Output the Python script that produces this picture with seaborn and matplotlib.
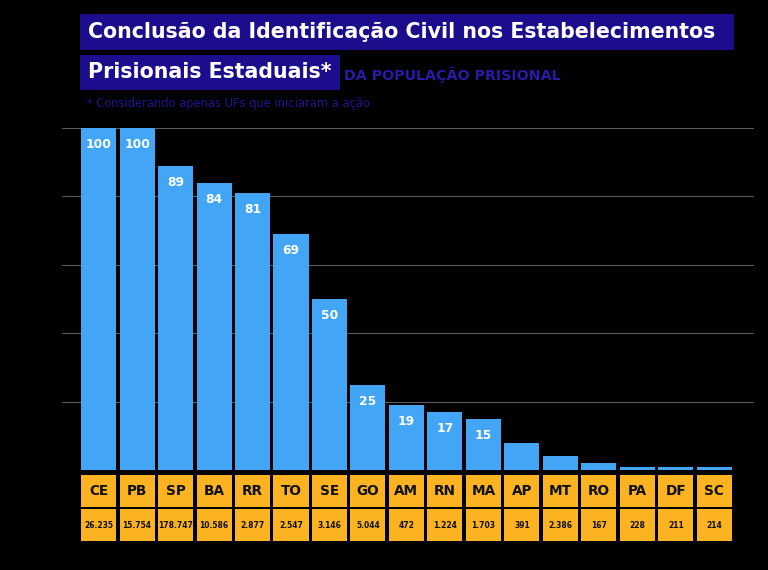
import numpy as np
import pandas as pd
import seaborn as sns
from matplotlib import pyplot as plt
from matplotlib.patches import Rectangle

ufs = ["CE", "PB", "SP", "BA", "RR", "TO", "SE", "GO", "AM", "RN", "MA",
       "AP", "MT", "RO", "PA", "DF", "SC"]
percentual = [100, 100, 89, 84, 81, 69, 50, 25, 19, 17, 15, 8, 4, 2, 1, 1, 1]
populacao = ["26.235", "15.754", "178.747", "10.586", "2.877", "2.547", "3.146",
             "5.044", "472", "1.224", "1.703", "391", "2.386", "167", "228",
             "211", "214"]

titulo_1 = "Conclusão da Identificação Civil nos Estabelecimentos"
titulo_2 = "Prisionais Estaduais*"
subtitulo = "DA POPULAÇÃO PRISIONAL"
nota = "* Considerando apenas UFs que iniciaram a ação"

azul = "#42a5f5"
amarelo = "#fbb321"
roxo = "#1b0d8c"

sns.set_theme(style="dark")
plt.rcParams["font.family"] = ["DejaVu Sans"]

df = pd.DataFrame({"uf": ufs, "pct": percentual, "pop": populacao})

fig = plt.figure(figsize=(7.68, 5.7), dpi=100, facecolor="black")
ax = fig.add_axes([62 / 768, 100 / 570, 692 / 768, 342 / 570])
ax.set_facecolor("black")

sns.barplot(data=df, x="uf", y="pct", color=azul, width=0.91, saturation=1,
            linewidth=0, ax=ax)
ax.set_xlim(-0.95, 17.03)
ax.set_ylim(0, 100)
ax.set_yticks([20, 40, 60, 80, 100])
ax.grid(True, axis="y", color="#5a5a5a", linewidth=0.8)
ax.grid(False, axis="x")
ax.set_axisbelow(True)
ax.tick_params(left=False, bottom=False, labelleft=False, labelbottom=False)
ax.set_xlabel("")
ax.set_ylabel("")
for s in ax.spines.values():
    s.set_visible(False)

for i, v in enumerate(percentual):
    if v >= 15:
        ax.annotate(str(v), (i, v), xytext=(0, -12), textcoords="offset points",
                    ha="center", va="center", color="white", fontsize=8.8, fontweight="bold")

# tabela de UFs e populacao
tab = fig.add_axes([62 / 768, 29 / 570, 692 / 768, 66 / 570])
tab.set_facecolor("black")
tab.set_xlim(ax.get_xlim())
tab.set_ylim(0, 66)
x = np.arange(len(ufs))
tab.bar(x, 32, bottom=34, width=0.91, color=amarelo, linewidth=0)
tab.bar(x, 32, bottom=0, width=0.91, color=amarelo, linewidth=0)
for i in x:
    tab.text(i, 50, ufs[i], ha="center", va="center", fontsize=9.8, fontweight="bold", color="#111111")
    tab.text(i, 16, populacao[i], ha="center", va="center", fontsize=5.5, fontweight="bold", color="#111111")
tab.axis("off")

# titulo
fig.patches.append(Rectangle((80 / 768, 1 - 50 / 570), 654 / 768, 36 / 570,
                             transform=fig.transFigure, facecolor=roxo, edgecolor="none"))
fig.patches.append(Rectangle((80 / 768, 1 - 90 / 570), 260 / 768, 35 / 570,
                             transform=fig.transFigure, facecolor=roxo, edgecolor="none"))
fig.text(88 / 768, 1 - 32 / 570, titulo_1, ha="left", va="center", color="white",
         fontsize=14.8, fontweight="bold")
fig.text(88 / 768, 1 - 72 / 570, titulo_2, ha="left", va="center", color="white",
         fontsize=14.8, fontweight="bold")
fig.text(344 / 768, 1 - 75 / 570, subtitulo, ha="left", va="center", color="#2a1aa8",
         fontsize=10.3, fontweight="bold")
fig.text(87 / 768, 1 - 104 / 570, nota, ha="left", va="center", color="#22148f",
         fontsize=8.3)

fig.savefig("out.png", dpi=100, facecolor="black")
